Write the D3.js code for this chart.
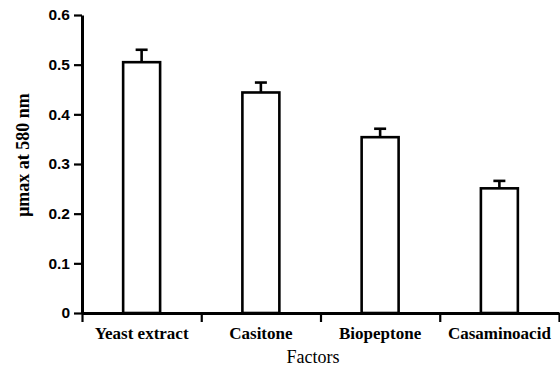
<!DOCTYPE html>
<html lang="en">
<head>
    <meta charset="UTF-8">
    <title>Factors</title>
    <script src="https://cdn.jsdelivr.net/npm/d3@7"></script>
    <style>
        body { margin: 0; background: #fff; }
    </style>
</head>
<body>
    <svg width="560" height="369" id="mainsvg"></svg>
    <script>
        const factors = ['Yeast extract', 'Casitone', 'Biopeptone', 'Casaminoacid']
        const muMax = [0.505, 0.444, 0.354, 0.251]
        const errors = [0.025, 0.020, 0.017, 0.015]
        const yTicks = [0, 0.1, 0.2, 0.3, 0.4, 0.5, 0.6]

        const svg = d3.select('#mainsvg')
        const margin = {top: 15, right: 1, bottom: 56, left: 82}
        const width = +svg.attr('width')
        const height = +svg.attr('height')
        const innerWidth = width - margin.left - margin.right
        const innerHeight = height - margin.top - margin.bottom

        const g = svg.append('g')
            .attr('transform', `translate(${margin.left},${margin.top})`)

        const data = factors.map((f, i) => ({name: f, value: muMax[i], err: errors[i]}))

        const yScale = d3.scaleLinear().domain([0, 0.6]).range([innerHeight, 0])
        const xBand = d3.scaleBand().domain(factors).range([0, innerWidth])
            .paddingInner(0.69).paddingOuter(0.345)
        const xEdge = d3.scaleLinear().domain([0, factors.length]).range([0, innerWidth])

        // bars
        g.selectAll('.bar').data(data).join('rect')
            .attr('class', 'bar')
            .attr('x', d => xBand(d.name))
            .attr('y', d => yScale(d.value))
            .attr('width', xBand.bandwidth())
            .attr('height', d => innerHeight - yScale(d.value))
            .attr('fill', '#fff')
            .attr('stroke', '#000')
            .attr('stroke-width', 2.6)

        // error bars
        const cx = d => xBand(d.name) + xBand.bandwidth() / 2
        g.selectAll('.err').data(data).join('line')
            .attr('x1', cx).attr('x2', cx)
            .attr('y1', d => yScale(d.value))
            .attr('y2', d => yScale(d.value + d.err))
            .attr('stroke', '#000').attr('stroke-width', 2.6)
        g.selectAll('.cap').data(data).join('line')
            .attr('x1', d => cx(d) - 6).attr('x2', d => cx(d) + 6)
            .attr('y1', d => yScale(d.value + d.err))
            .attr('y2', d => yScale(d.value + d.err))
            .attr('stroke', '#000').attr('stroke-width', 2.6)

        // y axis
        const yAxis = d3.axisLeft(yScale)
            .tickValues(yTicks)
            .tickSize(8).tickSizeOuter(0).tickPadding(4)
            .tickFormat(d => d === 0 ? '0' : d3.format('.1f')(d))
        const yAxisGroup = g.append('g').call(yAxis)
        yAxisGroup.select('.domain').attr('stroke-width', 3)
        yAxisGroup.selectAll('.tick line').attr('stroke-width', 2.2)
        yAxisGroup.selectAll('.tick text')
            .attr('font-family', '"Liberation Sans", Arial, sans-serif')
            .attr('font-weight', 'bold')
            .attr('font-size', '15.5px')
            .attr('fill', '#000')

        // x axis
        const xAxis = d3.axisBottom(xEdge)
            .tickValues(d3.range(factors.length + 1))
            .tickSize(9).tickSizeOuter(0)
            .tickFormat('')
        const xAxisGroup = g.append('g').call(xAxis)
            .attr('transform', `translate(0,${innerHeight})`)
        xAxisGroup.select('.domain').attr('stroke-width', 3)
        xAxisGroup.selectAll('.tick line').attr('stroke-width', 2.2)

        g.selectAll('.xlabel').data(factors).join('text')
            .attr('x', d => xBand(d) + xBand.bandwidth() / 2)
            .attr('y', innerHeight + 26)
            .attr('text-anchor', 'middle')
            .attr('font-family', '"Liberation Serif", "Times New Roman", serif')
            .attr('font-weight', 'bold')
            .attr('font-size', '17px')
            .text(d => d)

        // axis titles
        svg.append('text')
            .attr('x', 313).attr('y', 363)
            .attr('text-anchor', 'middle')
            .attr('font-family', '"Liberation Serif", "Times New Roman", serif')
            .attr('font-size', '18px')
            .text('Factors')

        svg.append('text')
            .attr('transform', 'translate(29,155) rotate(-90)')
            .attr('text-anchor', 'middle')
            .attr('font-family', '"Liberation Serif", "Times New Roman", serif')
            .attr('font-weight', 'bold')
            .attr('font-size', '18px')
            .text('μmax at 580 nm')
    </script>
</body>
</html>
